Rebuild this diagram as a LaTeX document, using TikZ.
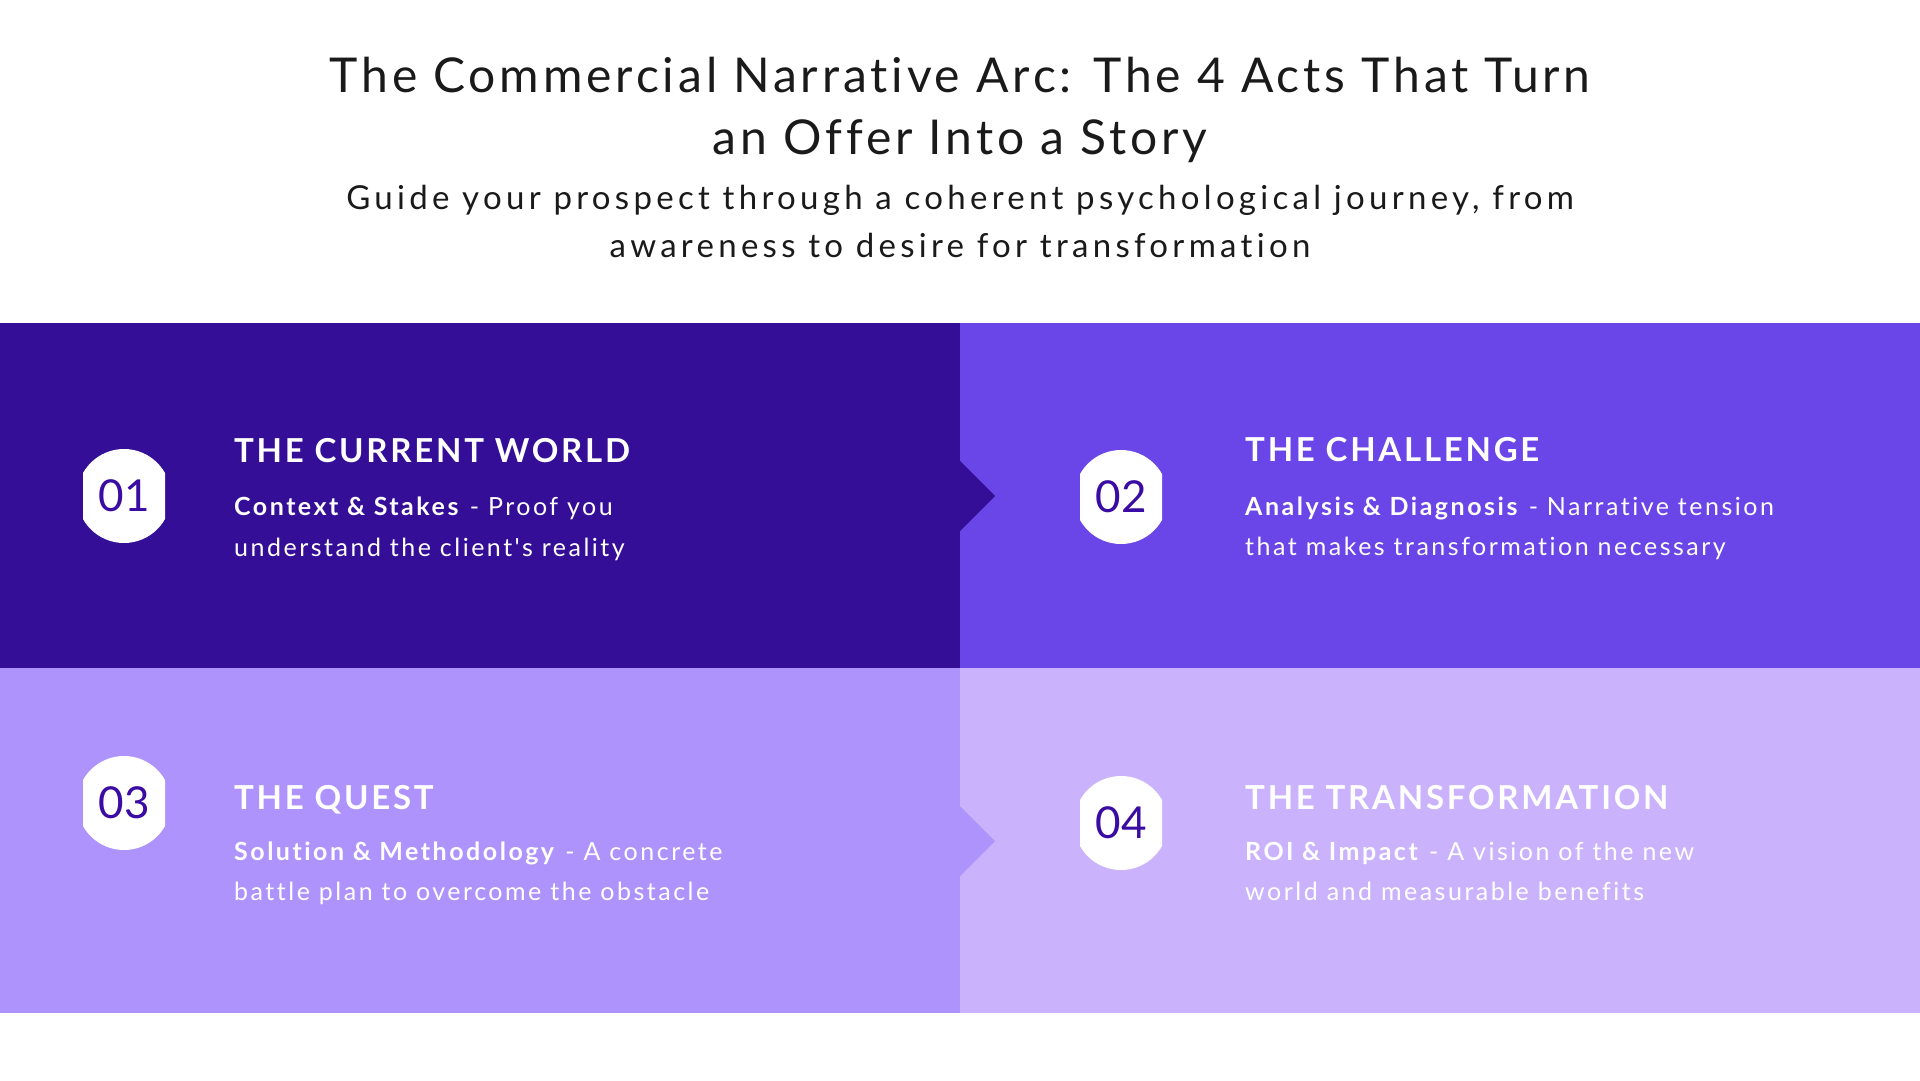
\documentclass[tikz,border=0pt]{standalone}
\usepackage{fontspec}
\setmainfont{Lato}
\newfontfamily\hdfont[LetterSpace=8,Ligatures={NoCommon}]{Lato}
\newfontfamily\subfont[LetterSpace=13,Ligatures={NoCommon}]{Lato}
\newfontfamily\secfont[LetterSpace=8.3,Ligatures={NoCommon}]{Lato}
\newfontfamily\bodyfont[LetterSpace=10,Ligatures={NoCommon,TeXOff}]{Lato}
\newfontfamily\numfont{Lato}
\definecolor{bandA}{HTML}{340E96}
\definecolor{bandB}{HTML}{6A45E8}
\definecolor{bandC}{HTML}{AE93FD}
\definecolor{bandD}{HTML}{CAB3FC}
\definecolor{digit}{HTML}{3A0CA3}
\definecolor{ink}{HTML}{1A1A1A}
\tikzset{
  hdtitle/.style={font=\hdfont\fontsize{48}{62}\selectfont, text=ink, anchor=base, inner sep=0pt},
  hdsub/.style={font=\subfont\fontsize{33}{48}\selectfont, text=ink, anchor=base, inner sep=0pt},
  sectitle/.style={font=\secfont\bfseries\fontsize{33}{40}\selectfont, text=white, anchor=base west, inner sep=0pt},
  secbody/.style={font=\bodyfont\fontsize{25}{41}\selectfont, text=white, anchor=base west, inner sep=0pt},
  numtext/.style={font=\numfont\fontsize{44}{44}\selectfont, text=digit, inner sep=0pt},
}
\newcommand{\badge}[3]{%
  \begin{scope}
    \clip (#2-41,#3-47) rectangle (#2+41,#3+47);
    \fill[white] (#2,#3) circle (47);
  \end{scope}
  \node[numtext] (num#1) at (#2,#3) {#1};
}
\begin{document}
\begin{tikzpicture}[x=1pt,y=-1pt]
\useasboundingbox (0,0) rectangle (1920,1080);
\fill[white] (0,0) rectangle (1920,1080);
% bands
\fill[bandA] (0,323) rectangle (960,668);
\fill[bandB] (960,323) rectangle (1920,668);
\fill[bandC] (0,668) rectangle (960,1013);
\fill[bandD] (960,668) rectangle (1920,1013);
% chevrons
\fill[bandA] (960,461) -- (995,496) -- (960,531) -- cycle;
\fill[bandC] (960,806) -- (995,841) -- (960,876) -- cycle;
% header
\node[hdtitle] (t1) at (960,92) {The Commercial Narrative Arc: The 4 Acts That Turn};
\node[hdtitle] (t2) at (960,154) {an Offer Into a Story};
\node[hdsub] (s1) at (960,209) {Guide your prospect through a coherent psychological journey, from};
\node[hdsub] (s2) at (960,257) {awareness to desire for transformation};
% badges
\badge{01}{124}{496}
\badge{02}{1121}{497}
\badge{03}{124}{803}
\badge{04}{1121}{823}
% section 1
\node[sectitle] (h1) at (234,462) {THE CURRENT WORLD};
\node[secbody] (b1a) at (234,515) {\textbf{Context \& Stakes} - Proof you};
\node[secbody] (b1b) at (234,556) {understand the client's reality};
% section 2
\node[sectitle] (h2) at (1245,461) {THE CHALLENGE};
\node[secbody] (b2a) at (1245,515) {\textbf{Analysis \& Diagnosis} - Narrative tension};
\node[secbody] (b2b) at (1245,555) {that makes transformation necessary};
% section 3
\node[sectitle] (h3) at (234,809) {THE QUEST};
\node[secbody] (b3a) at (234,860) {\textbf{Solution \& Methodology} - A concrete};
\node[secbody] (b3b) at (234,900) {battle plan to overcome the obstacle};
% section 4
\node[sectitle] (h4) at (1245,809) {THE TRANSFORMATION};
\node[secbody] (b4a) at (1245,860) {\textbf{ROI \& Impact} - A vision of the new};
\node[secbody] (b4b) at (1245,900) {world and measurable benefits};
\end{tikzpicture}
\end{document}
